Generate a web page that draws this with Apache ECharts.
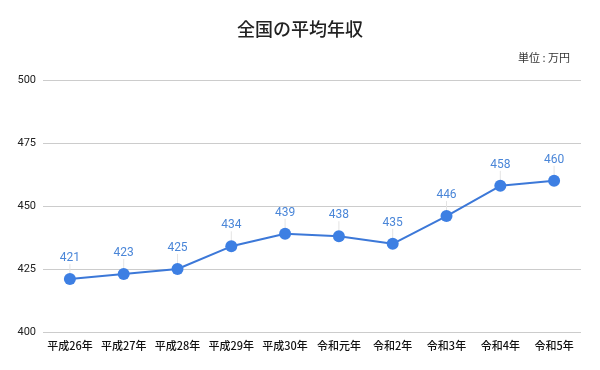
<!DOCTYPE html>
<html>
<head>
<meta charset="UTF-8">
<title>全国の平均年収</title>
<script src="https://cdn.jsdelivr.net/npm/echarts@6/dist/echarts.min.js"></script>
<style>
  html, body { margin: 0; padding: 0; background: #fff; }
  #chart { width: 600px; height: 370px; }
</style>
</head>
<body>
<div id="chart"></div>
<script>
var years = ['平成26年', '平成27年', '平成28年', '平成29年', '平成30年', '令和元年', '令和2年', '令和3年', '令和4年', '令和5年'];
var income = [421, 423, 425, 434, 439, 438, 435, 446, 458, 460];

var font = '"Noto Sans CJK JP", "Noto Sans", sans-serif';
var numFont = 'Roboto, "Noto Sans", sans-serif';
var chart = echarts.init(document.getElementById('chart'));
chart.setOption({
  backgroundColor: '#fff',
  textStyle: { fontFamily: font },
  title: [{
    text: '全国の平均年収',
    left: 'center',
    top: 15,
    textStyle: { fontSize: 18, fontWeight: 500, color: '#222', fontFamily: font }
  }, {
    text: '単位 : 万円',
    right: 25,
    top: 47,
    textStyle: { fontSize: 11, fontWeight: 'normal', color: '#333', fontFamily: font }
  }],
  grid: { left: 43, right: 19, top: 80, bottom: 38 },
  xAxis: {
    type: 'category',
    data: years,
    boundaryGap: true,
    axisLine: { show: false },
    axisTick: { show: false },
    axisLabel: { color: '#111', fontSize: 11, fontWeight: 500, margin: 8, interval: 0 }
  },
  yAxis: {
    type: 'value',
    min: 400,
    max: 500,
    interval: 25,
    axisLine: { show: false },
    axisTick: { show: false },
    axisLabel: { color: '#222', fontSize: 11, margin: 7, fontFamily: numFont },
    splitLine: { lineStyle: { color: '#cccccc', width: 1 } }
  },
  series: [{
    type: 'line',
    data: income,
    symbol: 'circle',
    symbolSize: 12,
    lineStyle: { color: '#3c78d8', width: 2 },
    itemStyle: { color: '#3d7fe3' },
    label: {
      show: true,
      position: 'top',
      distance: 4,
      color: '#4a86d8',
      fontSize: 12,
      fontFamily: numFont
    },
    labelLayout: { dy: -5 },
    labelLine: { show: true, lineStyle: { color: '#e4e4e4', width: 1 } }
  }]
});
</script>
</body>
</html>
